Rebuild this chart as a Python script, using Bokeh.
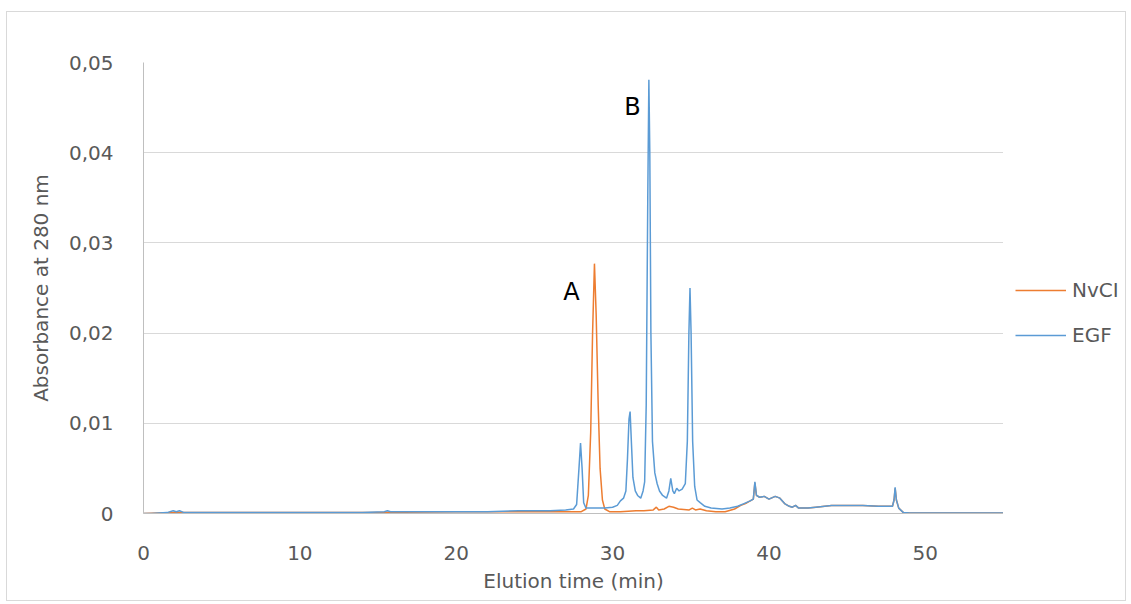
from bokeh.plotting import figure
from bokeh.layouts import row
from bokeh.models import (ColumnDataSource, Legend, LegendItem, Range1d, FixedTicker,
                          CustomJSTickFormatter, Label)
from bokeh.embed import file_html
from bokeh.resources import INLINE

# ---- data ----
egf_time = [0.0, 0.5, 1.5, 1.9, 2.1, 2.3, 2.6, 4.0, 6.0, 8.0, 10.0, 12.0, 14.0, 15.4, 15.6, 15.8,
            18.0, 20.0, 22.0, 24.0, 26.0, 27.0, 27.5, 27.7, 27.85, 27.95, 28.05, 28.15, 28.3,
            28.8, 29.5, 30.0, 30.3, 30.5, 30.7, 30.85, 30.95, 31.05, 31.12, 31.2, 31.3, 31.45,
            31.6, 31.8, 31.95, 32.05, 32.15, 32.25, 32.32, 32.38, 32.45, 32.55, 32.7, 32.85,
            33.0, 33.2, 33.45, 33.6, 33.72, 33.85, 33.95, 34.1, 34.25, 34.45, 34.65, 34.78,
            34.88, 34.95, 35.02, 35.12, 35.25, 35.4, 35.6, 35.9, 36.3, 37.0, 37.5, 38.0, 38.4,
            38.8, 39.0, 39.1, 39.2, 39.4, 39.7, 40.0, 40.4, 40.7, 41.0, 41.3, 41.5, 41.7, 41.9,
            42.5, 43.0, 44.0, 45.0, 46.0, 47.0, 47.9, 48.0, 48.07, 48.15, 48.3, 48.6, 49.0,
            52.0, 55.0]
egf_abs = [0.0000, 0.0000, 0.0001, 0.0003, 0.0002, 0.0003, 0.0001, 0.0001, 0.0001, 0.0001,
           0.0001, 0.0001, 0.0001, 0.0002, 0.0003, 0.0002, 0.0002, 0.0002, 0.0002, 0.0003,
           0.0003, 0.0004, 0.0005, 0.0010, 0.0050, 0.0078, 0.0050, 0.0012, 0.0006, 0.0006,
           0.0006, 0.0007, 0.0009, 0.0014, 0.0017, 0.0025, 0.0060, 0.0105, 0.0113, 0.0080,
           0.0040, 0.0025, 0.0020, 0.0017, 0.0025, 0.0035, 0.0120, 0.0350, 0.0481, 0.0400,
           0.0200, 0.0080, 0.0045, 0.0033, 0.0025, 0.0020, 0.0017, 0.0025, 0.0039, 0.0025,
           0.0022, 0.0028, 0.0025, 0.0027, 0.0033, 0.0080, 0.0200, 0.0250, 0.0200, 0.0080,
           0.0030, 0.0015, 0.0012, 0.0008, 0.0006, 0.0005, 0.0006, 0.0008, 0.0011, 0.0014,
           0.0016, 0.0035, 0.0020, 0.0018, 0.0019, 0.0016, 0.0019, 0.0017, 0.0011, 0.0008,
           0.0007, 0.0009, 0.0006, 0.0006, 0.0007, 0.0009, 0.0009, 0.0009, 0.0008, 0.0008,
           0.0015, 0.0029, 0.0015, 0.0006, 0.0001, 0.00005, 0.00005, 0.00005]

nvci_time = [0.0, 2.0, 5.0, 10.0, 15.0, 20.0, 25.0, 27.0, 28.0, 28.3, 28.45, 28.6, 28.72,
             28.84, 28.95, 29.08, 29.2, 29.35, 29.5, 29.8, 30.5, 31.5, 32.0, 32.6, 32.8, 32.95,
             33.3, 33.6, 33.9, 34.2, 34.9, 35.1, 35.3, 35.6, 36.0, 36.6, 37.2, 37.8, 38.2,
             38.5, 38.8, 39.0, 39.1, 39.2, 39.4, 39.7, 40.0, 40.4, 40.7, 41.0, 41.3, 41.5,
             41.7, 41.9, 42.5, 43.0, 44.0, 45.0, 46.0, 47.0, 47.9, 48.0, 48.07, 48.15, 48.3,
             48.6, 49.0, 52.0, 55.0]
nvci_abs = [0.0000, 0.0001, 0.0001, 0.0001, 0.0001, 0.0002, 0.0002, 0.0002, 0.0002, 0.0005,
            0.0020, 0.0090, 0.0200, 0.0277, 0.0220, 0.0120, 0.0050, 0.0015, 0.0005, 0.0002,
            0.0002, 0.0003, 0.0003, 0.0004, 0.0007, 0.0004, 0.0005, 0.0008, 0.0007, 0.0005,
            0.0004, 0.0006, 0.0004, 0.0005, 0.0003, 0.0002, 0.0002, 0.0005, 0.0009, 0.0011,
            0.0014, 0.0016, 0.0034, 0.0020, 0.0018, 0.0019, 0.0016, 0.0019, 0.0017, 0.0011,
            0.0008, 0.0007, 0.0009, 0.0006, 0.0006, 0.0007, 0.0009, 0.0009, 0.0009, 0.0008,
            0.0008, 0.0015, 0.0028, 0.0015, 0.0006, 0.0001, 0.00005, 0.00005, 0.00005]

series_names = ["NvCI", "EGF"]
series_colors = ["#ED7D31", "#5B9BD5"]
x_ticks = [0, 10, 20, 30, 40, 50]
y_ticks = [0.0, 0.01, 0.02, 0.03, 0.04, 0.05]
peak_labels = ["A", "B"]
peak_label_x = [27.37, 31.27]
peak_label_y = [0.0246, 0.0451]

FONT = "DejaVu Sans"
TXT = "#595959"

nv_src = ColumnDataSource(dict(x=nvci_time, y=nvci_abs))
eg_src = ColumnDataSource(dict(x=egf_time, y=egf_abs))
sources = [nv_src, eg_src]

# ---- main chart ----
p = figure(width=996, height=588, output_backend="svg", toolbar_location=None,
           x_range=Range1d(0, 55), y_range=Range1d(0, 0.05),
           min_border_left=136, min_border_right=0, min_border_top=50,
           min_border_bottom=87)
p.outline_line_color = None
p.background_fill_color = "white"
p.border_fill_color = "white"

for src, col in zip(sources, series_colors):
    p.line("x", "y", source=src, line_color=col, line_width=1.5)

p.xaxis.ticker = FixedTicker(ticks=x_ticks)
p.yaxis.ticker = FixedTicker(ticks=y_ticks)
p.yaxis.formatter = CustomJSTickFormatter(
    code="return tick === 0 ? '0' : tick.toFixed(2).replace('.', ',');")
for ax in (p.xaxis[0], p.yaxis[0]):
    ax.major_tick_line_color = None
    ax.minor_tick_line_color = None
    ax.axis_line_color = "#bfbfbf"
    ax.major_label_text_font = FONT
    ax.major_label_text_font_size = "20px"
    ax.major_label_text_color = TXT
    ax.axis_label_text_font = FONT
    ax.axis_label_text_font_size = "20px"
    ax.axis_label_text_color = TXT
    ax.axis_label_text_font_style = "normal"
p.xaxis.axis_label = "Elution time (min)"
p.yaxis.axis_label = "Absorbance at 280 nm"
p.xaxis.major_label_standoff = 26
p.yaxis.major_label_standoff = 24
p.xaxis.axis_label_standoff = 6
p.yaxis.axis_label_standoff = 13

p.xgrid.grid_line_color = None
p.ygrid.grid_line_color = "#d9d9d9"
p.ygrid.grid_line_width = 1

for t, lx, ly in zip(peak_labels, peak_label_x, peak_label_y):
    p.add_layout(Label(x=lx, y=ly, text=t, text_font=FONT, text_font_size="24px",
                       text_color="black", text_align="center", text_baseline="middle"))

# ---- legend panel: a narrow figure whose ranges lie outside the data,
#      so its line renderers only serve as legend glyphs ----
pl = figure(width=122, height=588, output_backend="svg", toolbar_location=None,
            x_axis_type=None, y_axis_type=None, min_border=0,
            x_range=Range1d(-20, -10), y_range=Range1d(0, 1))
pl.outline_line_color = None
pl.grid.grid_line_color = None
pl.border_fill_color = "white"
items = []
for name, src, col in zip(series_names, sources, series_colors):
    r = pl.line("x", "y", source=src, line_color=col, line_width=1.5)
    items.append(LegendItem(label=name, renderers=[r]))
legend = Legend(items=items, location=(12, 166), orientation="vertical",
                glyph_width=51, glyph_height=22, label_height=22, spacing=21,
                label_standoff=6, padding=0, margin=0,
                border_line_color=None, background_fill_alpha=0,
                label_text_font=FONT, label_text_font_size="20px", label_text_color=TXT)
pl.add_layout(legend, "center")

layout = row(p, pl, spacing=0)
layout.styles = {"margin-left": "6px", "margin-top": "11px", "border": "1px solid #d9d9d9"}

open("out.html", "w").write(file_html(layout, INLINE))
